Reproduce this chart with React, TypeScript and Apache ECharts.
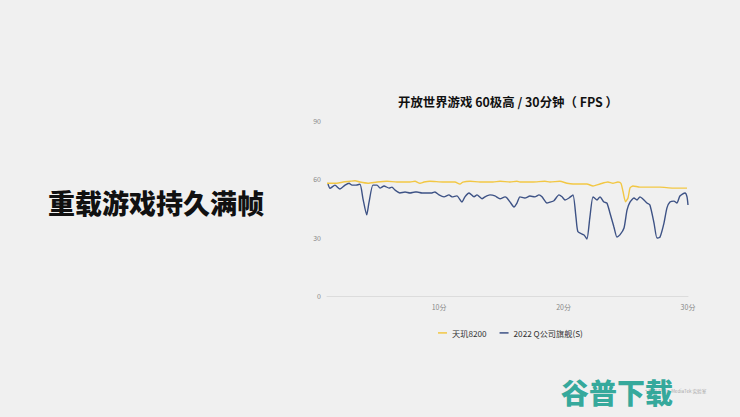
import React, { useEffect, useRef } from "react";
import * as echarts from "echarts";

const yTicks = [0, 30, 60, 90];
const xLabelMinutes = [10, 20, 30];

const dimensityTime = [1.0, 1.8, 2.29, 2.85, 3.25, 3.65, 4.29, 5.02, 5.82, 6.62, 7.67, 8.07, 8.47, 8.79, 9.27, 10.32, 11.28, 11.68, 11.92, 12.49, 13.29, 14.33, 14.9, 15.7, 16.26, 16.5, 17.55, 18.5, 18.91, 19.71, 20.28, 20.76, 21.32, 21.88, 22.37, 22.93, 23.57, 23.97, 24.37, 24.61, 24.77, 24.98, 25.18, 25.34, 25.58, 26.14, 26.94, 27.75, 28.79, 29.92];
const dimensityFps = [58, 58, 58.6, 59, 59.3, 58.6, 58, 58.6, 59, 58.6, 58.6, 59, 58, 58.6, 59, 58.6, 58.6, 57.6, 58.6, 59, 58.6, 58.6, 59, 58.6, 59, 58.6, 58.6, 59, 58.6, 59, 58, 57.6, 57.6, 57.6, 56.6, 57.6, 58.6, 58, 58.6, 58, 54, 48.5, 50.4, 55.5, 56.6, 56, 56, 56, 55.5, 55.5];

const qTime = [1.08, 1.24, 1.64, 2.04, 2.45, 2.77, 3.01, 3.33, 3.65, 3.89, 4.19, 4.37, 4.69, 5.02, 5.26, 5.58, 5.98, 6.22, 6.46, 6.86, 7.27, 7.67, 8.07, 8.23, 8.63, 9.03, 9.43, 9.67, 10.0, 10.4, 10.8, 11.04, 11.44, 11.84, 12.08, 12.41, 12.81, 13.05, 13.45, 13.69, 14.09, 14.49, 14.9, 15.3, 15.46, 15.7, 16.02, 16.26, 16.5, 16.9, 17.3, 17.7, 18.03, 18.27, 18.67, 18.91, 19.23, 19.63, 19.88, 20.12, 20.44, 20.76, 21.0, 21.16, 21.65, 21.88, 22.12, 22.37, 22.69, 22.93, 23.25, 23.49, 23.73, 24.05, 24.29, 24.53, 24.86, 25.1, 25.34, 25.66, 25.9, 26.14, 26.46, 26.7, 26.94, 27.27, 27.51, 27.75, 28.07, 28.31, 28.55, 28.87, 29.11, 29.35, 29.76, 29.92, 30.0];
const qFps = [57.6, 55.4, 57, 55, 57, 58, 57, 57, 57.5, 50, 41.7, 48, 57, 57, 55.5, 56.6, 55.5, 56, 54.5, 53, 53.5, 53, 53.5, 53.5, 53, 53, 53, 53.5, 52, 51, 52, 51, 51.5, 48.3, 51, 53, 51, 52, 50, 51, 52, 51.5, 50, 51, 50.4, 48.4, 45.8, 47.8, 51, 50.4, 51.4, 51, 52, 51, 47.8, 48.3, 49, 52, 51, 49.4, 50.4, 52, 40.6, 33, 31.4, 29.3, 40.6, 51, 49.4, 51, 48.3, 47.8, 42.7, 35.5, 30.3, 31.4, 35, 44.2, 48.3, 50.4, 49.4, 51, 49.4, 47.8, 46.8, 37.5, 29.8, 30.3, 37.5, 45.3, 48.3, 48.8, 47.8, 51.4, 53, 51, 46.8];

const seriesNames = ["天玑8200", "2022 Q公司旗舰(S)"];
const chartTitle = "开放世界游戏 60极高 / 30分钟（ FPS ）";
const headline = "重载游戏持久满帧";

export default function App() {
  const ref = useRef<HTMLDivElement>(null);
  useEffect(() => {
    if (!ref.current) return;
    const chart = echarts.init(ref.current, null, { renderer: "svg" });
    const cjk = '"Noto Sans CJK SC", "Noto Sans", sans-serif';
    chart.setOption({
      animation: false,
      backgroundColor: "#f0f0f0",
      textStyle: { fontFamily: cjk },
      graphic: [
        {
          type: "text",
          left: 48,
          top: 189,
          style: { text: headline, font: `900 27px ${cjk}`, fill: "#111" },
        },
        {
          type: "text",
          x: 508,
          y: 96,
          style: { text: chartTitle, font: `bold 12.4px ${cjk}`, fill: "#111", textAlign: "center" },
        },
        {
          type: "text",
          x: 645,
          y: 389,
          style: { text: "* 数据来源：MediaTek 实验室", font: `4.6px ${cjk}`, fill: "#aaa" },
        },
        {
          type: "text",
          x: 561,
          y: 378,
          style: { text: "谷普下载", font: `900 28px ${cjk}`, fill: "#2aa597", opacity: 0.95 },
        },
      ],
      legend: {
        bottom: 75,
        left: 433,
        icon: "rect",
        itemWidth: 9,
        itemHeight: 1.5,
        itemGap: 13,
        textStyle: { fontSize: 8.2, color: "#333", fontFamily: cjk },
        data: seriesNames,
      },
      grid: { left: 327, right: 52, top: 121, bottom: 121 },
      xAxis: {
        type: "value",
        min: 1,
        max: 30,
        axisLine: { show: true, lineStyle: { color: "#dcdcdc", width: 1 } },
        axisTick: { show: false },
        splitLine: { show: false },
        axisLabel: {
          customValues: xLabelMinutes,
          formatter: (v: number) => `${v}分`,
          color: "#888",
          fontSize: 7,
          margin: 7,
          fontFamily: cjk,
        },
      },
      yAxis: {
        type: "value",
        min: yTicks[0],
        max: yTicks[yTicks.length - 1],
        interval: 30,
        axisLine: { show: false },
        axisTick: { show: false },
        splitLine: { show: false },
        axisLabel: { color: "#888", fontSize: 7, margin: 6, fontFamily: cjk },
      },
      series: [
        {
          name: seriesNames[1],
          type: "line",
          data: qTime.map((t, i) => [t, qFps[i]]),
          showSymbol: false,
          smooth: 0.2,
          lineStyle: { color: "#3d5285", width: 1.4 },
          itemStyle: { color: "#3d5285" },
          z: 2,
        },
        {
          name: seriesNames[0],
          type: "line",
          data: dimensityTime.map((t, i) => [t, dimensityFps[i]]),
          showSymbol: false,
          smooth: 0.2,
          lineStyle: { color: "#f2c744", width: 1.4 },
          itemStyle: { color: "#f2c744" },
          z: 3,
        },
      ],
    });
    return () => chart.dispose();
  }, []);
  return (
    <div
      ref={ref}
      style={{ position: "fixed", left: 0, top: 0, width: 740, height: 417 }}
    />
  );
}
